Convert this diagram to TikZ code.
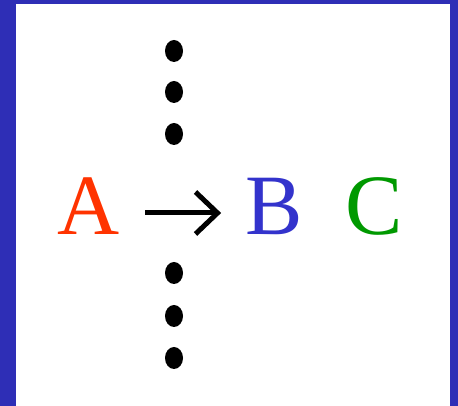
\documentclass[tikz,border=0pt]{standalone}
\usepackage{fontspec}
\setmainfont{Liberation Serif}
\usetikzlibrary{arrows.meta,positioning,shapes.geometric}
\definecolor{frame}{HTML}{2E2EB6}
\definecolor{orangered}{HTML}{FF3300}
\definecolor{royal}{HTML}{3333CC}
\definecolor{leaf}{HTML}{009900}
\tikzset{
  letter/.style={inner sep=0pt,anchor=base,font=\fontsize{86}{86}\selectfont},
  vdot/.style={ellipse,fill=black,inner sep=0pt,minimum width=18pt,minimum height=22pt}
}
\begin{document}
\begin{tikzpicture}[x=1pt,y=1pt]
    \fill[frame] (0,0) rectangle (458,406);
    \fill[white] (16,0) rectangle (450,402);
    \useasboundingbox (0,0) rectangle (458,406);
    \node[letter,text=orangered] (A) at (89,171) {A};
    \node[letter,text=royal] (B) at (274,171) {B};
    \node[letter,text=leaf] (C) at (374,171) {C};
    \draw[line width=5pt,-{Straight Barb[length=22pt,width=42pt,line width=5pt]},shorten <=25pt,shorten >=24pt] ([yshift=22pt]A.base east) -- ([yshift=22pt]B.base west);
    \foreach \y [count=\i] in {355,314,272,133,90,48}{
      \node[vdot] (dot\i) at (174,\y) {};
    }
  \end{tikzpicture}
\end{document}
